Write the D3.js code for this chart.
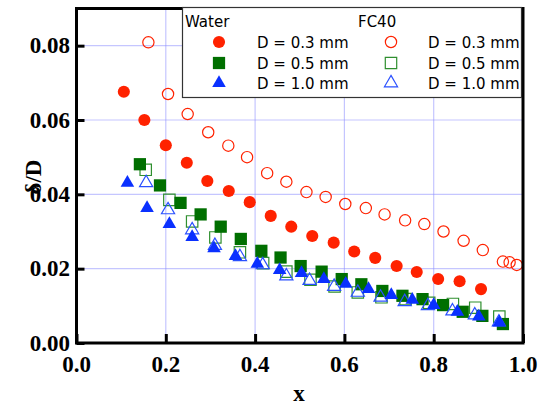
<!DOCTYPE html>
<html>
<head>
<meta charset="utf-8">
<script src="https://cdn.jsdelivr.net/npm/d3@7"></script>
<style>
  body { margin: 0; background: #fff; }
  svg { display: block; }
</style>
</head>
<body>
<svg id="chart" width="546" height="407"></svg>
<script>
// water, D = 0.3 mm
var w03x = [0.106,0.152,0.200,0.247,0.293,0.341,0.388,0.435,0.481,0.528,0.576,0.622,0.669,0.717,0.762,0.810,0.858,0.906];
var w03y = [0.0676,0.0600,0.0532,0.0485,0.0436,0.0409,0.0379,0.0342,0.0313,0.0288,0.0270,0.0246,0.0229,0.0207,0.0191,0.0172,0.0166,0.0145];
// FC40, D = 0.3 mm
var f03x = [0.161,0.205,0.249,0.295,0.340,0.382,0.427,0.470,0.515,0.558,0.602,0.648,0.690,0.736,0.779,0.822,0.867,0.910,0.955,0.970,0.986];
var f03y = [0.0809,0.0670,0.0616,0.0567,0.0531,0.0500,0.0457,0.0434,0.0406,0.0393,0.0374,0.0363,0.0346,0.0330,0.0320,0.0300,0.0275,0.0250,0.0219,0.0217,0.0210];
// water, D = 0.5 mm
var w05x = [0.142,0.187,0.233,0.278,0.323,0.368,0.414,0.457,0.502,0.549,0.594,0.638,0.685,0.730,0.775,0.821,0.865,0.909,0.955];
var w05y = [0.0481,0.0424,0.0377,0.0346,0.0313,0.0280,0.0248,0.0230,0.0207,0.0192,0.0172,0.0158,0.0140,0.0127,0.0118,0.0102,0.0084,0.0073,0.0051];
// FC40, D = 0.5 mm
var f05x = [0.155,0.208,0.259,0.311,0.366,0.418,0.470,0.524,0.578,0.630,0.683,0.737,0.790,0.843,0.893,0.947];
var f05y = [0.0466,0.0385,0.0327,0.0284,0.0244,0.0215,0.0192,0.0170,0.0152,0.0136,0.0123,0.0118,0.0108,0.0105,0.0095,0.0071];
// water, D = 1.0 mm
var w10x = [0.114,0.158,0.208,0.259,0.308,0.356,0.405,0.455,0.504,0.554,0.603,0.654,0.705,0.752,0.800,0.853,0.901,0.947];
var w10y = [0.0431,0.0363,0.0320,0.0285,0.0255,0.0234,0.0213,0.0196,0.0188,0.0172,0.0159,0.0145,0.0129,0.0116,0.0102,0.0084,0.0071,0.0055];
// FC40, D = 1.0 mm
var f10x = [0.156,0.205,0.259,0.310,0.366,0.417,0.470,0.522,0.577,0.630,0.681,0.735,0.787,0.842,0.892,0.946];
var f10y = [0.0431,0.0358,0.0304,0.0262,0.0232,0.0210,0.0180,0.0168,0.0152,0.0136,0.0123,0.0111,0.0100,0.0086,0.0075,0.0056];

var xTicks = [0, 0.2, 0.4, 0.6, 0.8, 1.0];
var yTicks = [0, 0.02, 0.04, 0.06, 0.08];

var red = "#ff2200", green = "#006f00", green2 = "#2f8f2f", blue = "#0a30ff", blue2 = "#2a50ff";

var series = [
  {name: "w03", xs: w03x, ys: w03y, shape: "circle", fill: red, stroke: "none"},
  {name: "f03", xs: f03x, ys: f03y, shape: "circle", fill: "none", stroke: red},
  {name: "f05", xs: f05x, ys: f05y, shape: "square", fill: "none", stroke: green2},
  {name: "w05", xs: w05x, ys: w05y, shape: "square", fill: green, stroke: "none"},
  {name: "f10", xs: f10x, ys: f10y, shape: "triangle", fill: "none", stroke: blue2},
  {name: "w10", xs: w10x, ys: w10y, shape: "triangle", fill: blue, stroke: "none"}
];

var svg = d3.select("#chart");
var pL = 76.5, pR = 523, pT = 8.5, pB = 343;

var x = d3.scaleLinear().domain([0, 1]).range([pL, pR]);
var y = d3.scaleLinear().domain([0, 0.09]).range([pB, pT]);

// grid
var grid = svg.append("g").attr("stroke", "#8a8cff").attr("stroke-width", 1.2).attr("stroke-dasharray", "1,1");
grid.selectAll(".gx").data(xTicks.slice(1, 5)).enter().append("line")
  .attr("x1", function(d){ return x(d); }).attr("x2", function(d){ return x(d); })
  .attr("y1", pT).attr("y2", pB);
grid.selectAll(".gy").data(yTicks.slice(1)).enter().append("line")
  .attr("y1", function(d){ return y(d); }).attr("y2", function(d){ return y(d); })
  .attr("x1", pL).attr("x2", pR);

// markers
var sym = {
  circle: d3.symbol().type(d3.symbolCircle).size(115),
  square: d3.symbol().type(d3.symbolSquare).size(150),
  triangle: d3.symbol().type(d3.symbolTriangle).size(80)
};
var symOpen = {
  circle: d3.symbol().type(d3.symbolCircle).size(100),
  square: d3.symbol().type(d3.symbolSquare).size(130),
  triangle: d3.symbol().type(d3.symbolTriangle).size(75)
};

series.forEach(function(s){
  var pts = s.xs.map(function(v, i){ return [v, s.ys[i]]; });
  svg.append("g").selectAll("path").data(pts).enter().append("path")
    .attr("transform", function(d){ return "translate(" + x(d[0]) + "," + y(d[1]) + ")"; })
    .attr("d", s.fill === "none" ? symOpen[s.shape] : sym[s.shape])
    .attr("fill", s.fill)
    .attr("stroke", s.stroke)
    .attr("stroke-width", 1.2);
});

// frame
var frame = svg.append("g").attr("stroke", "#000").attr("stroke-width", 3).attr("fill", "none");
frame.append("rect").attr("x", pL).attr("y", pT).attr("width", pR - pL).attr("height", pB - pT);

// axes with inward ticks
var xAxis = svg.append("g").attr("transform", "translate(0," + pB + ")")
  .call(d3.axisTop(x).tickValues(xTicks).tickSize(9).tickFormat(""));
xAxis.select(".domain").remove();
xAxis.selectAll("line").attr("stroke-width", 3);
var yAxis = svg.append("g").attr("transform", "translate(" + pL + ",0)")
  .call(d3.axisRight(y).tickValues(yTicks).tickSize(8).tickFormat(""));
yAxis.select(".domain").remove();
yAxis.selectAll("line").attr("stroke-width", 3);

var lblFont = "Liberation Serif";
svg.append("g").selectAll("text").data(xTicks).enter().append("text")
  .attr("x", function(d){ return x(d); }).attr("y", 372)
  .attr("text-anchor", "middle")
  .attr("font-family", lblFont).attr("font-weight", "bold").attr("font-size", 23)
  .text(function(d){ return d3.format(".1f")(d); });
svg.append("g").selectAll("text").data(yTicks).enter().append("text")
  .attr("x", 70).attr("y", function(d){ return y(d) + 7.5; })
  .attr("text-anchor", "end")
  .attr("font-family", lblFont).attr("font-weight", "bold").attr("font-size", 23)
  .text(function(d){ return d3.format(".2f")(d); });

svg.append("text").attr("x", 299).attr("y", 401).attr("text-anchor", "middle")
  .attr("font-family", lblFont).attr("font-weight", "bold").attr("font-size", 23).text("x");
svg.append("text").attr("transform", "translate(41,177) rotate(-90)").attr("text-anchor", "middle")
  .attr("font-family", lblFont).attr("font-weight", "bold").attr("font-size", 23).text("δ/D");

// legend
var lg = svg.append("g");
lg.append("rect").attr("x", 182.5).attr("y", 7.5).attr("width", 339).attr("height", 90)
  .attr("fill", "#fff").attr("stroke", "#333").attr("stroke-width", 1.2);
var legFont = "DejaVu Sans";
lg.append("text").attr("x", 185).attr("y", 27).attr("font-family", legFont).attr("font-size", 15).text("Water");
lg.append("text").attr("x", 358).attr("y", 27).attr("font-family", legFont).attr("font-size", 15).text("FC40");
var legLabels = ["D = 0.3 mm", "D = 0.5 mm", "D = 1.0 mm"];
var legRowsY = [42, 63, 83];
var legW = [series[0], series[3], series[5]];
var legF = [series[1], series[2], series[4]];
legLabels.forEach(function(t, i){
  var yy = legRowsY[i];
  lg.append("path").attr("transform", "translate(219," + yy + ")")
    .attr("d", sym[legW[i].shape]).attr("fill", legW[i].fill);
  lg.append("text").attr("x", 257).attr("y", yy + 5.5).attr("font-family", legFont).attr("font-size", 15).text(t);
  lg.append("path").attr("transform", "translate(391," + yy + ")")
    .attr("d", symOpen[legF[i].shape]).attr("fill", "none").attr("stroke", legF[i].stroke).attr("stroke-width", 1.2);
  lg.append("text").attr("x", 428).attr("y", yy + 5.5).attr("font-family", legFont).attr("font-size", 15).text(t);
});
</script>
</body>
</html>
